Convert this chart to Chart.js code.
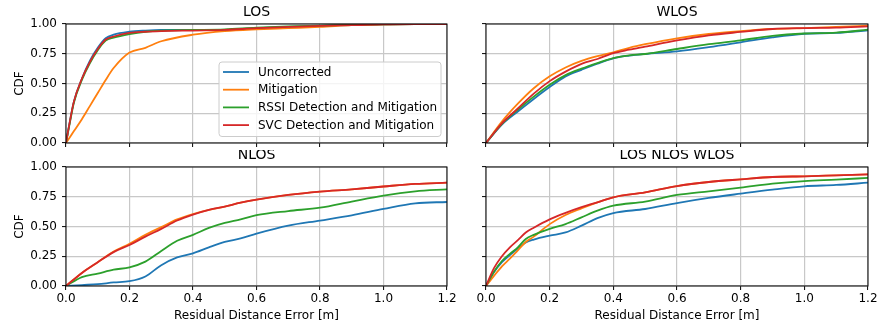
<!DOCTYPE html>
<html>
<head>
<meta charset="utf-8">
<script src="https://cdn.jsdelivr.net/npm/chart.js@4.4.1/dist/chart.umd.min.js"></script>
<style>
html, body { margin: 0; padding: 0; background: #fff; }
#wrap { position: relative; width: 877px; height: 325px; overflow: hidden; }
#wrap canvas { position: absolute; }
</style>
</head>
<body>
<div id="wrap">
  <canvas id="los" width="465" height="157" style="left:0;top:0"></canvas>
  <canvas id="wlos" width="445" height="157" style="left:440px;top:0"></canvas>
  <canvas id="nlos" width="465" height="175" style="left:0;top:150px"></canvas>
  <canvas id="all" width="445" height="175" style="left:440px;top:150px"></canvas>
</div>
<script>
// series names
var labels = ["Uncorrected", "Mitigation", "RSSI Detection and Mitigation", "SVC Detection and Mitigation"];
var colors = ["#1f77b4", "#ff7f0e", "#2ca02c", "#d62728"];

// LOS
var losX = [0, 0.01, 0.025, 0.05, 0.075, 0.1, 0.125, 0.15, 0.2, 0.25, 0.3, 0.4, 0.5, 0.6, 0.7, 0.8, 0.9, 1.0, 1.1, 1.2];
var losUncorrected = [0, 0.15, 0.35, 0.54, 0.69, 0.80, 0.88, 0.91, 0.935, 0.945, 0.95, 0.95, 0.95, 0.965, 0.975, 0.985, 0.99, 0.998, 1.0, 1.0];
var losMitigation = [0, 0.04, 0.1, 0.2, 0.31, 0.42, 0.53, 0.63, 0.76, 0.80, 0.855, 0.91, 0.94, 0.955, 0.965, 0.975, 0.99, 0.998, 1.0, 1.0];
var losRssi = [0, 0.14, 0.34, 0.53, 0.67, 0.78, 0.86, 0.885, 0.915, 0.935, 0.945, 0.95, 0.955, 0.97, 0.98, 0.987, 0.992, 0.998, 1.0, 1.0];
var losSvc = [0, 0.15, 0.35, 0.54, 0.68, 0.79, 0.87, 0.895, 0.925, 0.935, 0.94, 0.945, 0.95, 0.965, 0.975, 0.985, 0.99, 0.998, 1.0, 1.0];

// WLOS
var wlosX = [0, 0.05, 0.1, 0.15, 0.2, 0.25, 0.3, 0.35, 0.4, 0.45, 0.5, 0.6, 0.7, 0.8, 0.9, 1.0, 1.1, 1.2];
var wlosUncorrected = [0, 0.155, 0.265, 0.37, 0.47, 0.56, 0.615, 0.667, 0.712, 0.734, 0.748, 0.77, 0.805, 0.846, 0.888, 0.918, 0.925, 0.947];
var wlosMitigation = [0, 0.18, 0.33, 0.46, 0.56, 0.635, 0.69, 0.73, 0.762, 0.80, 0.83, 0.88, 0.916, 0.94, 0.958, 0.966, 0.975, 0.986];
var wlosRssi = [0, 0.16, 0.28, 0.39, 0.49, 0.57, 0.625, 0.672, 0.714, 0.737, 0.748, 0.79, 0.83, 0.863, 0.9, 0.92, 0.928, 0.952];
var wlosSvc = [0, 0.165, 0.29, 0.415, 0.52, 0.6, 0.665, 0.706, 0.755, 0.784, 0.81, 0.862, 0.905, 0.933, 0.958, 0.966, 0.97, 0.98];

// NLOS
var nlosX = [0, 0.05, 0.1, 0.15, 0.2, 0.25, 0.3, 0.35, 0.4, 0.45, 0.5, 0.55, 0.6, 0.7, 0.8, 0.9, 1.0, 1.1, 1.2];
var nlosUncorrected = [0, 0.008, 0.015, 0.03, 0.04, 0.08, 0.175, 0.24, 0.275, 0.325, 0.37, 0.40, 0.44, 0.507, 0.55, 0.594, 0.648, 0.695, 0.706];
var nlosMitigation = [0, 0.11, 0.2, 0.29, 0.355, 0.43, 0.495, 0.56, 0.605, 0.64, 0.668, 0.7, 0.725, 0.765, 0.793, 0.812, 0.836, 0.858, 0.868];
var nlosRssi = [0, 0.075, 0.105, 0.137, 0.157, 0.205, 0.295, 0.38, 0.43, 0.488, 0.53, 0.56, 0.595, 0.63, 0.658, 0.71, 0.76, 0.795, 0.812];
var nlosSvc = [0, 0.11, 0.2, 0.285, 0.345, 0.415, 0.48, 0.55, 0.6, 0.64, 0.668, 0.7, 0.725, 0.765, 0.793, 0.812, 0.836, 0.858, 0.868];

// LOS NLOS WLOS
var allX = [0, 0.025, 0.05, 0.075, 0.1, 0.125, 0.15, 0.2, 0.25, 0.3, 0.35, 0.4, 0.5, 0.6, 0.7, 0.8, 0.9, 1.0, 1.1, 1.2];
var allUncorrected = [0, 0.115, 0.2, 0.26, 0.315, 0.365, 0.39, 0.423, 0.45, 0.507, 0.57, 0.613, 0.647, 0.697, 0.74, 0.776, 0.81, 0.838, 0.849, 0.868];
var allMitigation = [0, 0.085, 0.165, 0.23, 0.3, 0.37, 0.415, 0.52, 0.597, 0.652, 0.703, 0.745, 0.787, 0.84, 0.874, 0.896, 0.916, 0.922, 0.93, 0.938];
var allRssi = [0, 0.12, 0.21, 0.27, 0.325, 0.395, 0.43, 0.48, 0.52, 0.577, 0.633, 0.675, 0.709, 0.765, 0.796, 0.826, 0.86, 0.882, 0.894, 0.908];
var allSvc = [0, 0.15, 0.25, 0.325, 0.385, 0.45, 0.49, 0.56, 0.615, 0.663, 0.703, 0.745, 0.787, 0.84, 0.874, 0.896, 0.916, 0.922, 0.93, 0.938];

var xTicks = [0, 0.2, 0.4, 0.6, 0.8, 1.0, 1.2];
var yTicks = [0, 0.25, 0.5, 0.75, 1.0];

var FONT = "'DejaVu Sans', sans-serif";
Chart.defaults.font.family = FONT;
Chart.defaults.color = "#000";

// frame, title and legend drawn like matplotlib axes
var panelDecor = {
    id: "panelDecor",
    afterDatasetsDraw: function (chart, args, opts) {
        var a = chart.chartArea;
        var ctx = chart.ctx;
        ctx.save();
        ctx.strokeStyle = "#000";
        ctx.lineWidth = 1;
        ctx.strokeRect(a.left, a.top, a.right - a.left, a.bottom - a.top);

        ctx.fillStyle = "#000";
        ctx.font = "14px " + FONT;
        ctx.textAlign = "center";
        ctx.textBaseline = "middle";
        ctx.fillText(opts.title, (a.left + a.right) / 2, a.top - 12);

        if (opts.legend) {
            var w = 222, h = 74.5;
            var x0 = a.right - 6 - w;
            var y0 = a.bottom - 6.5 - h;
            ctx.beginPath();
            ctx.roundRect(x0, y0, w, h, 3);
            ctx.fillStyle = "rgba(255,255,255,0.8)";
            ctx.fill();
            ctx.strokeStyle = "#cccccc";
            ctx.stroke();
            ctx.font = "12px " + FONT;
            ctx.textAlign = "left";
            chart.data.datasets.forEach(function (ds, i) {
                var y = y0 + 10 + i * 17.7;
                ctx.strokeStyle = ds.borderColor;
                ctx.lineWidth = 1.8;
                ctx.beginPath();
                ctx.moveTo(x0 + 4, y);
                ctx.lineTo(x0 + 30, y);
                ctx.stroke();
                ctx.fillStyle = "#000";
                ctx.fillText(ds.label, x0 + 39, y + 0.5);
            });
        }
        ctx.restore();
    },
};

function makePanel(id, title, xs, series, o) {
    var datasets = series.map(function (ys, i) {
        return {
            label: labels[i],
            data: xs.map(function (x, j) { return { x: x, y: ys[j] }; }),
            borderColor: colors[i],
            backgroundColor: colors[i],
            borderWidth: 1.8,
            pointRadius: 0,
            cubicInterpolationMode: "monotone",
            order: series.length - i, // later series on top, as in matplotlib
        };
    });
    return new Chart(document.getElementById(id), {
        type: "line",
        data: { datasets: datasets },
        plugins: [panelDecor],
        options: {
            responsive: false,
            animation: false,
            layout: { padding: o.padding },
            plugins: {
                legend: { display: false },
                tooltip: { enabled: false },
                panelDecor: { title: title, legend: o.legend },
            },
            scales: {
                x: {
                    type: "linear",
                    min: 0,
                    max: 1.2,
                    afterBuildTicks: function (s) { s.ticks = xTicks.map(function (v) { return { value: v }; }); },
                    afterFit: function (s) { s.height = o.xHeight; },
                    ticks: {
                        display: o.xLabels,
                        callback: function (v) { return v.toFixed(1); },
                        font: { size: 12 },
                        padding: 2,
                        maxRotation: 0,
                    },
                    grid: { color: "#c8c8c8", lineWidth: 1.2, tickColor: "#000", tickLength: 4, tickWidth: 1 },
                    border: { display: false },
                    title: {
                        display: o.xLabels,
                        text: "Residual Distance Error [m]",
                        font: { size: 12 },
                        padding: { top: 0, bottom: 1.5 },
                    },
                },
                y: {
                    min: 0,
                    max: 1,
                    afterBuildTicks: function (s) { s.ticks = yTicks.map(function (v) { return { value: v }; }); },
                    afterFit: function (s) { s.width = o.yWidth; },
                    ticks: {
                        display: o.yLabels,
                        callback: function (v) { return v.toFixed(2); },
                        font: { size: 12 },
                        padding: 5,
                    },
                    grid: { color: "#c8c8c8", lineWidth: 1.2, tickColor: "#000", tickLength: 4, tickWidth: 1 },
                    border: { display: false },
                    title: {
                        display: o.yLabels,
                        text: "CDF",
                        font: { size: 12 },
                        padding: { top: 13, bottom: 0 },
                    },
                },
            },
        },
    });
}

makePanel("los", "LOS", losX, [losUncorrected, losMitigation, losRssi, losSvc],
    { padding: { top: 24, right: 18, left: 0, bottom: 0 }, xHeight: 14, yWidth: 66, xLabels: false, yLabels: true, legend: true });
makePanel("wlos", "WLOS", wlosX, [wlosUncorrected, wlosMitigation, wlosRssi, wlosSvc],
    { padding: { top: 24, right: 17, left: 0, bottom: 0 }, xHeight: 14, yWidth: 46, xLabels: false, yLabels: false, legend: false });
makePanel("nlos", "NLOS", nlosX, [nlosUncorrected, nlosMitigation, nlosRssi, nlosSvc],
    { padding: { top: 17, right: 18, left: 0, bottom: 0 }, xHeight: 39, yWidth: 66, xLabels: true, yLabels: true, legend: false });
makePanel("all", "LOS NLOS WLOS", allX, [allUncorrected, allMitigation, allRssi, allSvc],
    { padding: { top: 17, right: 17, left: 0, bottom: 0 }, xHeight: 39, yWidth: 46, xLabels: true, yLabels: false, legend: false });
</script>
</body>
</html>
